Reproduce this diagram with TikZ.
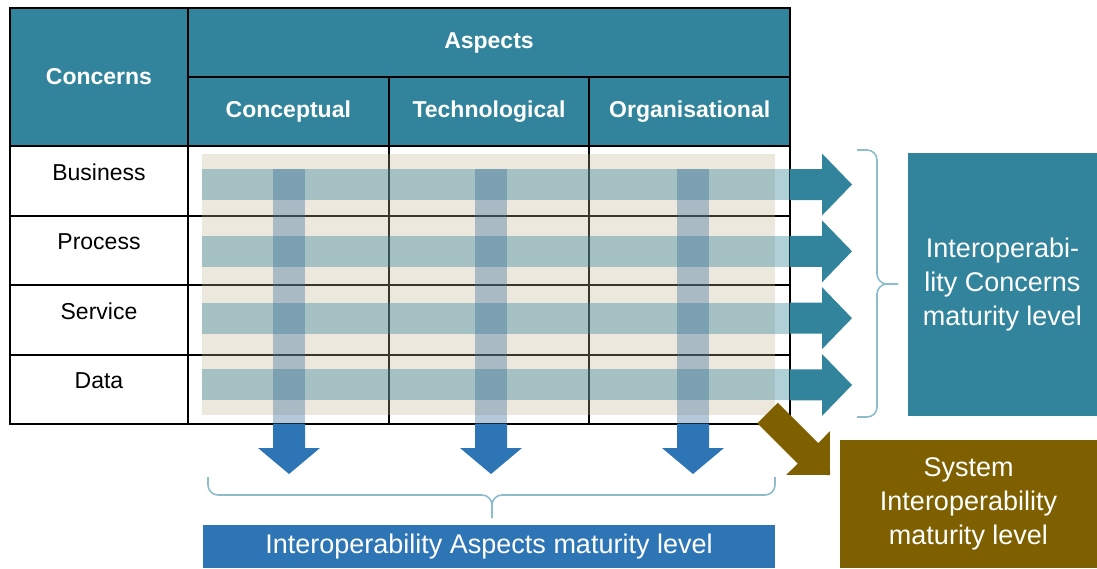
\documentclass[tikz,border=0pt]{standalone}
\usepackage{fontspec}
\setmainfont{Liberation Sans}
\usetikzlibrary{positioning,calc}
\definecolor{HeadTeal}{RGB}{49,132,155}
\definecolor{AspectBlue}{RGB}{46,117,182}
\definecolor{BarBlue}{RGB}{54,108,152}
\definecolor{SysBrown}{RGB}{127,96,0}
\definecolor{Sand}{RGB}{196,180,147}
\definecolor{BraceTeal}{RGB}{141,189,203}
\tikzset{
  head/.style={draw=black,line width=1pt,fill=HeadTeal,text=white,font=\bfseries\fontsize{11.5}{13}\selectfont,inner sep=0pt},
  rowcell/.style={draw=black,line width=1pt,fill=white,minimum width=89pt,minimum height=34.75pt,inner sep=0pt},
  rowlabel/.style={text=black,font=\fontsize{11.5}{13}\selectfont,inner sep=0pt},
  level/.style={text=white,align=center,font=\fontsize{13.5}{17}\selectfont,inner sep=0pt},
  band/.style={fill=HeadTeal,fill opacity=.38},
  bar/.style={fill=BarBlue,fill opacity=.37},
  bracket/.style={draw=BraceTeal,line width=.8pt,rounded corners=5pt}
}
\begin{document}
\begin{tikzpicture}[x=0.5pt,y=-0.5pt]
  \useasboundingbox (0,0) rectangle (1097,568);
  % header
  \node[head,minimum width=89pt,minimum height=69pt] (concerns) at (99,77) {Concerns};
  \node[head,minimum width=301pt,minimum height=34.5pt] (aspects) at (489,42.5) {Aspects};
  \node[head,minimum width=100.33pt,minimum height=34.5pt] (conceptual) at (288.33,111.5) {Conceptual};
  \node[head,minimum width=100.33pt,minimum height=34.5pt] (technological) at (489,111.5) {Technological};
  \node[head,minimum width=100.33pt,minimum height=34.5pt] (organisational) at (689.67,111.5) {Organisational};
  % rows
  \foreach \name/\txt [count=\r from 0] in {business/Business,process/Process,service/Service,data/Data}{
    \node[rowcell] (\name) at (99,{180.75+69.5*\r}) {};
    \node[rowlabel] (\name-t) at (99,{172+69.5*\r}) {\txt};
    \foreach \c in {0,1,2}
      \node[rowcell,minimum width=100.33pt] (\name-\c) at ({288.33+200.67*\c},{180.75+69.5*\r}) {};
  }
  % overlays
  \fill[Sand,fill opacity=.3] (202,154) rectangle (775,415);
  \foreach \k [evaluate=\k as \yy using 184.5+66.83*\k] in {0,...,3}{
    \fill[band] (202,\yy-15.5) rectangle (790,\yy+15.5);
    \fill[HeadTeal] (790,\yy-15.5) -- (822,\yy-15.5) -- (822,\yy-31) -- (852,\yy)
      -- (822,\yy+31) -- (822,\yy+15.5) -- (790,\yy+15.5) -- cycle;
  }
  \foreach \xx in {289,491,693}{
    \fill[bar] (\xx-16,169) rectangle (\xx+16,424);
    \fill[AspectBlue] (\xx-16,424) -- (\xx-16,448) -- (\xx-31,448) -- (\xx,474)
      -- (\xx+31,448) -- (\xx+16,448) -- (\xx+16,424) -- cycle;
  }
  \fill[SysBrown] (777.75,402.75) -- (818.25,443.25) -- (829.9,431.1) -- (830,475)
    -- (786.1,474.9) -- (797.75,463.75) -- (757.25,423.25) -- cycle;
  % levels
  \node[level,fill=HeadTeal,minimum width=94.5pt,minimum height=131.5pt] (concernlevel) at (1002.5,284.5) {Interoperabi-\\lity Concerns\\maturity level};
  \node[level,fill=SysBrown,minimum width=128.5pt,minimum height=64pt] (syslevel) at (968.5,504) {System\\Interoperability\\maturity level};
  \node[level,fill=AspectBlue,minimum width=286pt,minimum height=21.5pt] (aspectlevel) at (489,546.5) {Interoperability Aspects maturity level};
  % braces
  \coordinate (rtip) at (898,284);
  \coordinate (btip) at (492,518);
  \draw[bracket] (857,150) -- (877,150) -- (877,284) -- (rtip);
  \draw[bracket] (857,417) -- (877,417) -- (877,284) -- (rtip);
  \draw[bracket] (208,477) -- (208,495) -- (492,495) -- (btip);
  \draw[bracket] (775,477) -- (775,495) -- (492,495) -- (btip);
\end{tikzpicture}
\end{document}
